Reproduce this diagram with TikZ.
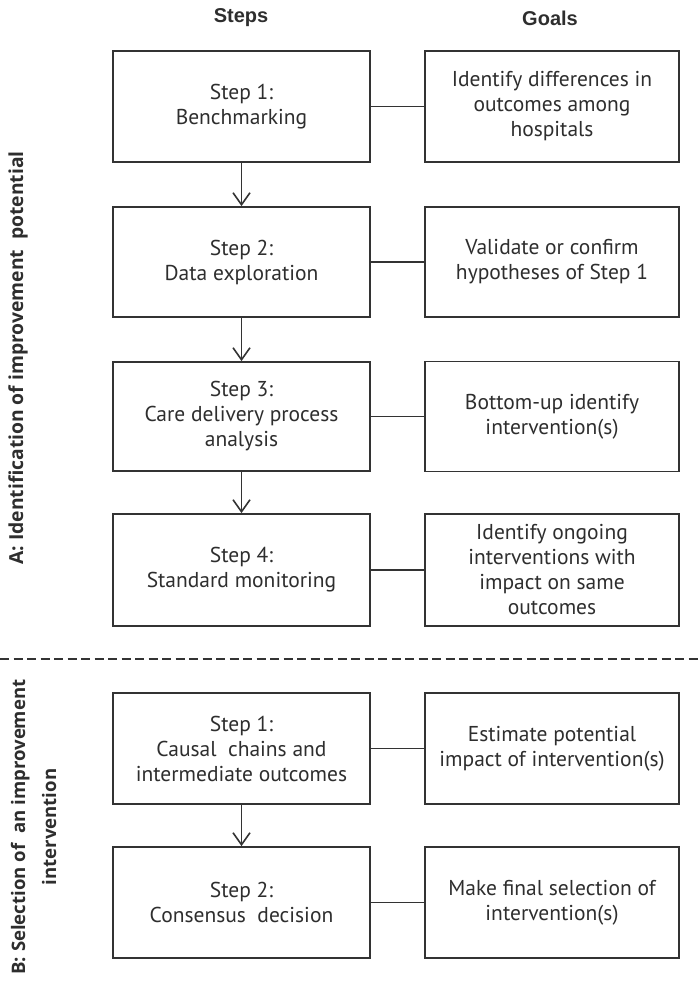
\documentclass[tikz,border=0pt]{standalone}
\usepackage{fontspec}
\setmainfont{PT Sans}
\newfontfamily\titlefont{Liberation Sans}
\newfontfamily\sidefont{Open Sans}
\usetikzlibrary{arrows.meta}
\definecolor{linec}{HTML}{333333}
\definecolor{textc}{HTML}{2E2E2E}
\begin{document}
\begin{tikzpicture}[x=1pt,y=-1pt,
  box/.style={draw=linec, line width=1.8pt, align=center, text=textc,
    font=\fontsize{21.5}{25}\selectfont, inner sep=0pt},
  lbox/.style={box, minimum width=257pt},
  rbox/.style={box, minimum width=254pt},
  link/.style={draw=linec, line width=1.8pt},
  flow/.style={link, -{Straight Barb[length=12pt,width=17pt,line width=1.6pt]}},
  title/.style={font=\titlefont\bfseries\fontsize{20}{24}\selectfont, text=textc},
  side/.style={rotate=90, align=center, text=textc,
    font=\sidefont\bfseries\fontsize{19.3}{31}\selectfont},
  sideb/.style={side, font=\sidefont\bfseries\fontsize{18.6}{31}\selectfont},
  sep/.style={draw=linec, line width=1.8pt, dash pattern=on 9pt off 4.5pt}
]
\fill[white] (0,0) rectangle (699,981);
\useasboundingbox (0,0) rectangle (699,981);

\node[title] (tsteps) at (241,18) {Steps};
\node[title] (tgoals) at (550,18) {Goals};

% Part A
\node[lbox, minimum height=111pt] (a1) at (241.5,106.5) {Step 1:\\Benchmarking};
\node[rbox, minimum height=111pt] (g1) at (552,106.5) {Identify differences in\\outcomes among\\hospitals};
\node[lbox, minimum height=110pt] (a2) at (241.5,262) {Step 2:\\Data exploration};
\node[rbox, minimum height=110pt] (g2) at (552,262) {Validate or confirm\\hypotheses of Step 1};
\node[lbox, minimum height=109pt] (a3) at (241.5,416.5) {Step 3:\\Care delivery process\\analysis};
\node[rbox, minimum height=110pt] (g3) at (552,416.5) {Bottom-up identify\\intervention(s)};
\node[lbox, minimum height=112pt] (a4) at (241.5,570) {Step 4:\\Standard monitoring};
\node[rbox, minimum height=112pt] (g4) at (552,570) {Identify ongoing\\interventions with\\impact on same\\outcomes};

% Part B
\node[lbox, minimum height=111pt] (b1) at (241.5,748.5) {Step 1:\\Causal\ \ chains and\\intermediate outcomes};
\node[rbox, minimum height=111pt] (h1) at (552,748.5) {Estimate potential\\impact of intervention(s)};
\node[lbox, minimum height=111pt] (b2) at (241.5,902.5) {Step 2:\\Consensus\ \ decision};
\node[rbox, minimum height=111pt] (h2) at (552,902.5) {Make final selection of\\intervention(s)};

% connectors
\foreach \l/\r in {a1/g1,a2/g2,a3/g3,a4/g4,b1/h1,b2/h2}
  \draw[link] (\l.east) -- (\r.west);
\draw[flow] (a1.south) -- (a2.north);
\draw[flow] (a2.south) -- (a3.north);
\draw[flow] (a3.south) -- (a4.north);
\draw[flow] (b1.south) -- (b2.north);

% separator
\coordinate (sepl) at (0,659);
\coordinate (sepr) at (699,659);
\draw[sep] (sepl) -- (sepr);

% side labels
\node[side] (sa) at (18,358) {A: Identification of improvement\ \ potential};
\node[sideb] (sb) at (33.5,827) {B: Selection of\ \ an improvement\\intervention};
\end{tikzpicture}
\end{document}
